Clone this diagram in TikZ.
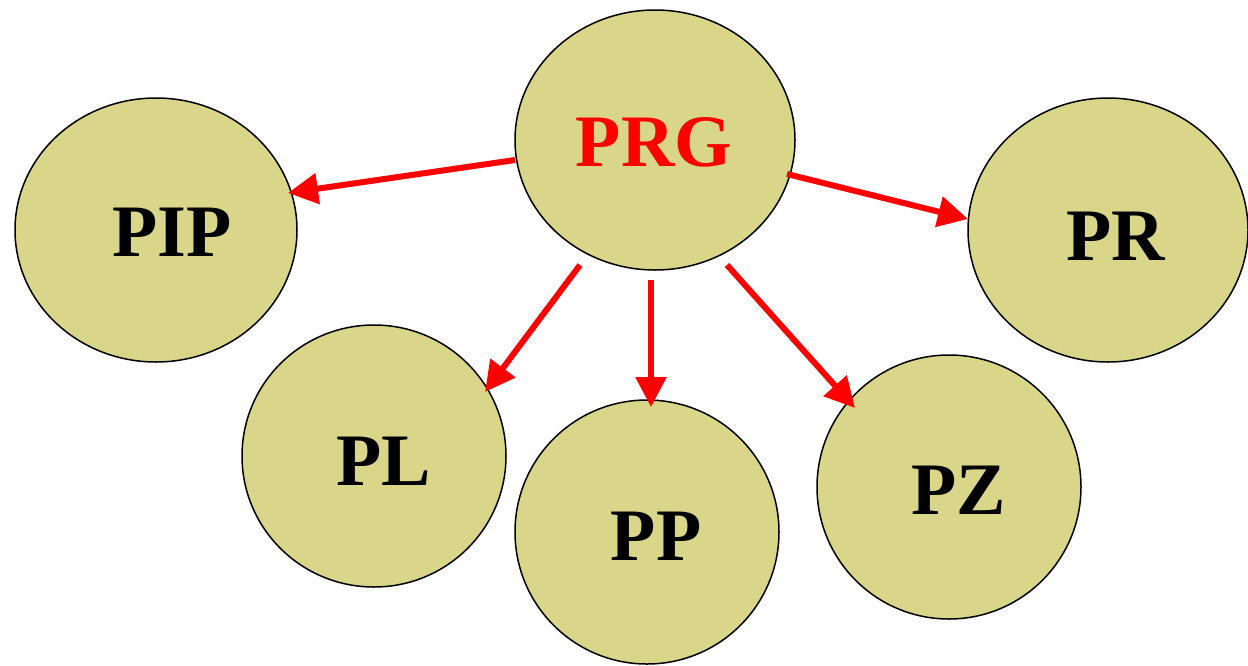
\documentclass[tikz,border=0pt]{standalone}
\usepackage{fontspec}
\setmainfont{Liberation Serif}
\usetikzlibrary{shapes.geometric,arrows.meta,calc}
\definecolor{olive}{RGB}{217,214,138}
\definecolor{arrred}{RGB}{255,0,0}
\tikzset{
  blob/.style={ellipse,draw=black,line width=1.5pt,fill=olive,inner sep=0pt},
  lbl/.style={font=\fontsize{74}{82}\selectfont\bfseries,inner sep=0pt,anchor=center},
  link/.style={draw=arrred,line width=6pt,-{Triangle[length=30pt,width=30pt]}}
}
\begin{document}
\begin{tikzpicture}[x=1pt,y=-1pt]
\useasboundingbox (0,0) rectangle (1248,665);
\node[blob,minimum width=282pt,minimum height=264pt] (PIP) at (156,230) {};
\node[blob,minimum width=280pt,minimum height=264pt] (PR) at (1108,230) {};
\node[blob,minimum width=264pt,minimum height=262pt] (PL) at (374,456) {};
\node[blob,minimum width=264pt,minimum height=264pt] (PP) at (647,532) {};
\node[blob,minimum width=264pt,minimum height=264pt] (PZ) at (949,487) {};
\node[blob,minimum width=280pt,minimum height=260pt] (PRG) at (655,140) {};
\node[lbl,text=arrred] (tPRG) at (654,142) {PRG};
\node[lbl] (tPIP) at (172,232) {PIP};
\node[lbl] (tPR) at (1116,236) {PR};
\node[lbl] (tPL) at (384,461) {PL};
\node[lbl] (tPP) at (656,536) {PP};
\node[lbl] (tPZ) at (959,490) {PZ};
\draw[link] ($(PRG.center)+(-140,20)$) -- ($(PIP.center)+(132,-37)$);
\draw[link] ($(PRG.center)+(-75,125)$) -- ($(PL.center)+(111,-64)$);
\draw[link] ($(PRG.center)+(-4,140)$) -- ($(PP.center)+(4,-125)$);
\draw[link] ($(PRG.center)+(132,34)$) -- ($(PR.center)+(-140,-11)$);
\draw[link] ($(PRG.center)+(72,125)$) -- ($(PZ.center)+(-94,-79)$);
\end{tikzpicture}
\end{document}
